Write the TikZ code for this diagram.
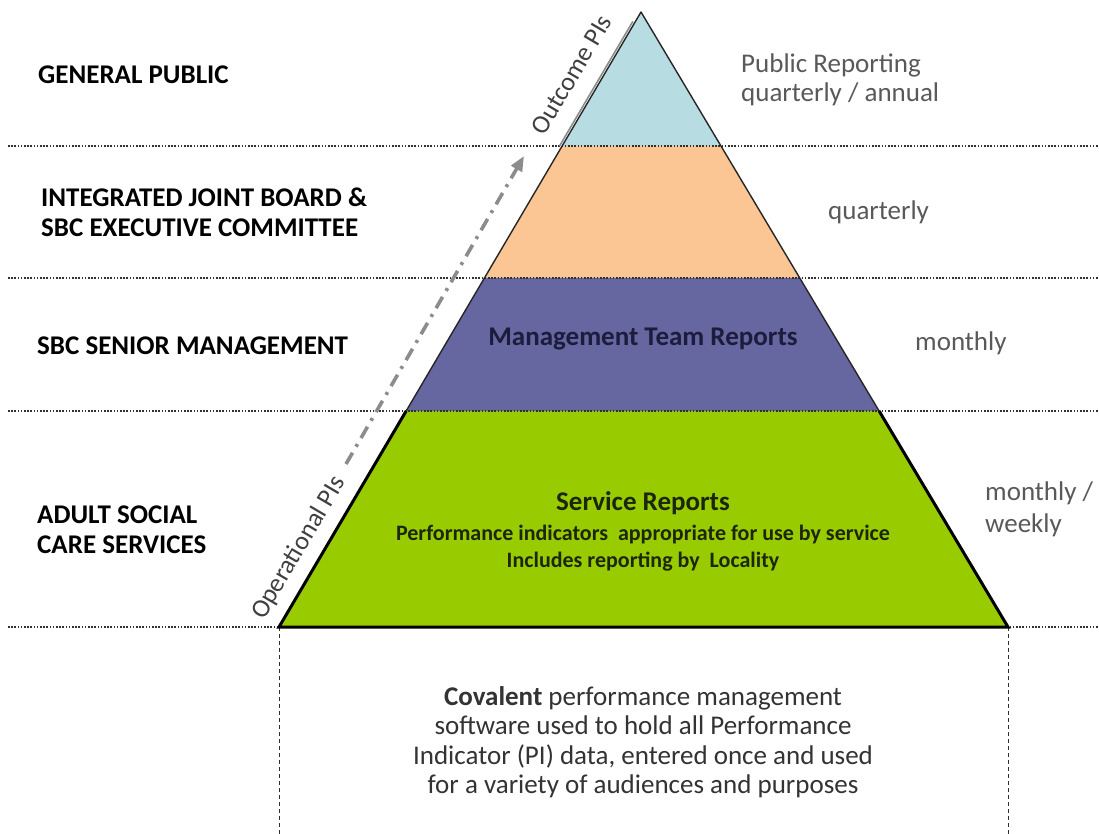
\documentclass[tikz,border=0pt]{standalone}
\usepackage{fontspec}
\setmainfont{Carlito}
\usetikzlibrary{arrows.meta,calc}

\definecolor{capteal}{HTML}{B7DDE3}
\definecolor{bandorange}{HTML}{FBC693}
\definecolor{bandpurple}{HTML}{6666A0}
\definecolor{bandgreen}{HTML}{99CC00}
\definecolor{notegray}{HTML}{595959}
\definecolor{arrowgray}{HTML}{8C8C8C}
\definecolor{ruledark}{HTML}{303030}
\definecolor{navytext}{HTML}{1C1C3C}
\definecolor{greentext}{HTML}{1C2608}

\tikzset{
  level rule/.style={draw=ruledark, line width=1.9pt, dash pattern=on 1.6pt off 1.6pt},
  guide rule/.style={draw=ruledark, line width=1pt, dash pattern=on 4pt off 3pt},
  thin edge/.style={draw=black!85, line width=1.4pt, line join=round},
  thick edge/.style={draw=black, line width=3pt, line join=miter},
  audience/.style={font=\fontsize{27}{30}\selectfont\bfseries, text=black, inner sep=0pt, align=left},
  cadence/.style={font=\fontsize{27}{29}\selectfont, text=notegray, inner sep=0pt, align=left},
  pi label/.style={font=\fontsize{26}{30}\selectfont, text=black!75, inner sep=0pt, rotate=59.5, anchor=base},
  pi arrow/.style={draw=arrowgray, line width=3.6pt, dash pattern=on 13pt off 7pt on 3pt off 7pt,
                   -{Triangle[length=15pt,width=12pt]}},
}

\begin{document}
\begin{tikzpicture}[x=1pt,y=-1pt]
\useasboundingbox (0,0) rectangle (1099,834);
\fill[white] (0,0) rectangle (1099,834);

% pyramid corners
\coordinate (apex) at (641,12);
\coordinate (bl) at (279,627);
\coordinate (br) at (1008,627);
% band boundaries on the two slopes (y = 146, 278, 411)
\coordinate (l1) at ($(bl)!0.7821!(apex)$);
\coordinate (r1) at ($(br)!0.7821!(apex)$);
\coordinate (l2) at ($(bl)!0.5675!(apex)$);
\coordinate (r2) at ($(br)!0.5675!(apex)$);
\coordinate (l3) at ($(bl)!0.3512!(apex)$);
\coordinate (r3) at ($(br)!0.3512!(apex)$);

% bands
\fill[capteal] (apex) -- (l1) -- (r1) -- cycle;
\fill[bandorange] (l1) -- (l2) -- (r2) -- (r1) -- cycle;
\fill[bandpurple] (l2) -- (l3) -- (r3) -- (r2) -- cycle;
\fill[bandgreen] (l3) -- (bl) -- (br) -- (r3) -- cycle;

% dotted level rules across the page
\coordinate (rule1w) at (8,146);  \coordinate (rule1e) at (1099,146);
\coordinate (rule2w) at (8,278);  \coordinate (rule2e) at (1099,278);
\coordinate (rule3w) at (8,411);  \coordinate (rule3e) at (1099,411);
\coordinate (rule4w) at (8,627);  \coordinate (rule4e) at (1099,627);
\draw[level rule] (rule1w) -- (rule1e);
\draw[level rule] (rule2w) -- (rule2e);
\draw[level rule] (rule3w) -- (rule3e);
\draw[level rule] (rule4w) -- (rule4e);

% dashed guides below the base
\coordinate (blfoot) at (279,834);
\coordinate (brfoot) at (1008,834);
\draw[guide rule] (bl) -- (blfoot);
\draw[guide rule] (br) -- (brfoot);

% outline
\draw[arrowgray, line width=1.6pt] ($(l1)+(-2.6,0)$) -- ($(l1)!0.93!(apex)+(-2.6,0)$);
\draw[thin edge] (l3) -- (apex) -- (r3);
\draw[thick edge] (r3) -- (br) -- (bl) -- (l3);

% PI direction arrow
\coordinate (pitail) at (346,464);
\coordinate (pitip) at (524,156);
\draw[pi arrow] (pitail) -- (pitip);

% slope labels
\node[pi label] (outcome) at ($(bl)!0.8752!(apex)+(-17,-10)$) {Outcome PIs};
\node[pi label] (operational) at ($(bl)!0.1098!(apex)+(-13.8,-8.1)$) {Operational PIs};

% audiences
\node[audience, anchor=base west] (public) at (38,84) {GENERAL PUBLIC};
\node[audience, anchor=north west] (board) at (41,188) {INTEGRATED JOINT BOARD \&\\SBC EXECUTIVE COMMITTEE};
\node[audience, anchor=base west] (senior) at (37,354) {SBC SENIOR MANAGEMENT};
\node[audience, anchor=north west] (adult) at (37,506) {ADULT SOCIAL\\CARE SERVICES};

% reporting cadence
\node[cadence, anchor=north west] (annual) at (741,54) {Public Reporting\\quarterly / annual};
\node[cadence, anchor=base west] (quarterly) at (828,220) {quarterly};
\node[cadence, anchor=base west] (monthly) at (915,350) {monthly};
\node[cadence, anchor=north west, font=\fontsize{27}{32}\selectfont] (weekly) at (985,482) {monthly /\\weekly};

% band contents
\node[font=\fontsize{27}{30}\selectfont\bfseries, text=navytext, inner sep=0pt, anchor=base] (mgmt) at (643,345) {Management Team Reports};
\node[font=\fontsize{27}{30}\selectfont\bfseries, text=greentext, inner sep=0pt, anchor=base] (service) at (643,510) {Service Reports};
\node[font=\fontsize{22}{27}\selectfont\bfseries, text=greentext, inner sep=0pt, anchor=north, align=center] (servicenote) at (643,524.5) {Performance indicators\ \ appropriate for use by service\\Includes reporting by\ \ Locality};

% data source note
\node[font=\fontsize{27}{29.5}\selectfont, text=black!80, inner sep=0pt, anchor=north, align=center] (covalent) at (643,686)
  {\textbf{Covalent} performance management\\software used to hold all Performance\\Indicator (PI) data, entered once and used\\for a variety of audiences and purposes};
\end{tikzpicture}
\end{document}
